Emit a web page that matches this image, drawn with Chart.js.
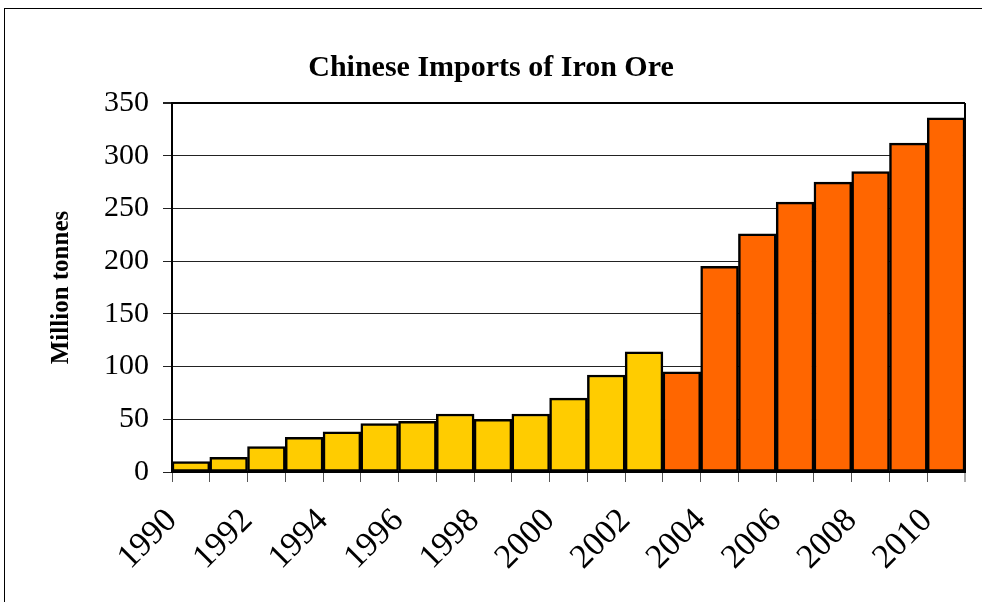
<!DOCTYPE html>
<html>
<head>
<meta charset="utf-8">
<script src="https://cdn.jsdelivr.net/npm/chart.js@4"></script>
<style>
  html, body { margin: 0; padding: 0; background: #fff; }
  #wrap { position: relative; width: 982px; height: 602px; }
  #frame { position: absolute; left: 4px; top: 8px; width: 990px; height: 600px;
           border-left: 1px solid #000; border-top: 1px solid #000; }
  canvas { position: absolute; left: 0; top: 0; }
</style>
</head>
<body>
<div id="wrap">
  <div id="frame"></div>
  <canvas id="ironChart" width="982" height="602"></canvas>
</div>
<script>
// 年ごとの輸入量 (百万トン)
const years = [1990, 1991, 1992, 1993, 1994, 1995, 1996, 1997, 1998, 1999, 2000,
               2001, 2002, 2003, 2004, 2005, 2006, 2007, 2008, 2009, 2010];
const imports = [10, 14, 24, 33, 38, 46, 48, 55, 50, 55, 70,
                 92, 114, 95, 195, 226, 256, 275, 285, 312, 336];
const yTicks = [0, 50, 100, 150, 200, 250, 300, 350];

const yellow = "#FFCC00";
const orange = "#FF6600";

// 2003年以降はオレンジ
const barColors = years.map(y => (y >= 2003 ? orange : yellow));

// 棒は年の区間 [year, year+1] を埋める
const points = years.map((y, i) => ({ x: y + 0.5, y: imports[i] }));

const serif = "'Liberation Serif', 'Times New Roman', serif";

const ctx = document.getElementById("ironChart").getContext("2d");
new Chart(ctx, {
    type: "bar",
    data: {
        datasets: [{
            data: points,
            backgroundColor: barColors,
            borderColor: "#000",
            borderWidth: 2.5,
            borderSkipped: false,
            barPercentage: 1,
            categoryPercentage: 1,
        }],
    },
    options: {
        responsive: false,
        animation: false,
        layout: { padding: { left: 17, right: 17, top: 0, bottom: 0 } },
        plugins: {
            legend: { display: false },
            tooltip: { enabled: false },
            title: {
                display: true,
                text: "Chinese Imports of Iron Ore",
                color: "#000",
                font: { family: serif, size: 30, weight: "bold" },
                padding: { top: 50, bottom: 17 },
            },
        },
        scales: {
            x: {
                type: "linear",
                offset: false,
                min: 1990,
                max: 2011,
                afterBuildTicks(scale) {
                    scale.ticks = [];
                    for (let v = 1990; v <= 2011; v++) scale.ticks.push({ value: v });
                },
                afterFit(scale) {
                    scale.height = 130;
                    // 回転ラベル用の左右余白は不要
                    scale.paddingLeft = 0;
                    scale.paddingRight = 0;
                },
                ticks: {
                    autoSkip: false,
                    minRotation: 45,
                    maxRotation: 45,
                    padding: 19,
                    color: "#000",
                    font: { family: serif, size: 34 },
                    callback: v => (v % 2 === 0 && v <= 2010 ? String(v) : ""),
                },
                grid: {
                    offset: false,
                    drawOnChartArea: true,
                    color: c => (c.tick && c.tick.value === 2011 ? "#000" : "rgba(0,0,0,0)"),
                    lineWidth: c => (c.tick && c.tick.value === 2011 ? 2 : 1),
                    tickColor: "#555",
                    tickLength: 10,
                    tickWidth: 1,
                },
                border: { display: true, color: "#000", width: 2 },
            },
            y: {
                min: 0,
                max: 350,
                afterBuildTicks(scale) {
                    scale.ticks = yTicks.map(v => ({ value: v }));
                },
                afterFit(scale) { scale.width = 155; },
                ticks: {
                    padding: 14,
                    color: "#000",
                    font: { family: serif, size: 30 },
                },
                grid: {
                    color: c => (c.tick && c.tick.value === 350 ? "#000" : "#222"),
                    lineWidth: c => (c.tick && c.tick.value === 350 ? 2 : 1),
                    tickColor: "#222",
                    tickLength: 9,
                },
                border: { display: true, color: "#000", width: 2 },
                title: {
                    display: true,
                    text: "Million tonnes",
                    color: "#000",
                    font: { family: serif, size: 25, weight: "bold" },
                    padding: { top: 30, bottom: 0 },
                },
            },
        },
    },
});
</script>
</body>
</html>
